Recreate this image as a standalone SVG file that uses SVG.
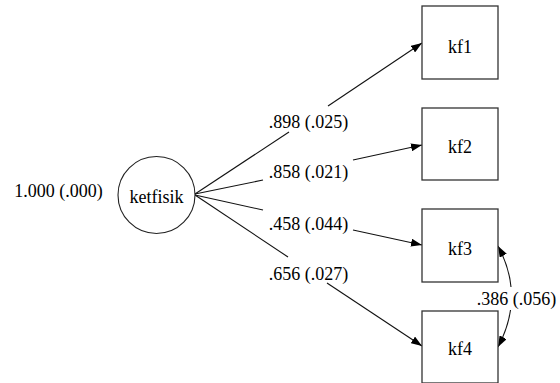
<svg xmlns="http://www.w3.org/2000/svg" width="560" height="383" viewBox="0 0 560 383">
<style>
text{font-family:'Liberation Serif','Times New Roman',serif;font-size:18px;fill:#000;text-anchor:middle}
.box{fill:#fff;stroke:#333;stroke-width:1.3}
.edge{fill:none;stroke:#111;stroke-width:1.1}
</style>
<defs>
<marker id="ah" markerUnits="userSpaceOnUse" markerWidth="11" markerHeight="8" refX="11" refY="4" orient="auto-start-reverse">
<path d="M0,0 L11,4 L0,8 z" fill="#000"/>
</marker>
</defs>
<rect width="560" height="383" fill="#fff"/>
<g id="connectors" font-family="Liberation Serif, serif">
<path class="edge" d="M195,194 L289,132"/>
<path class="edge" d="M328,106 L422,43" marker-end="url(#ah)"/>
<path class="edge" d="M195,194 L263,180"/>
<path class="edge" d="M353,160 L422,145" marker-end="url(#ah)"/>
<path class="edge" d="M195,195 L263,210"/>
<path class="edge" d="M353,230 L422,245" marker-end="url(#ah)"/>
<path class="edge" d="M195,195 L288,257"/>
<path class="edge" d="M327,283 L422,346" marker-end="url(#ah)"/>
<path class="edge" d="M498,246 Q509,266.3 511,287" marker-start="url(#ah)"/>
<path class="edge" d="M510.5,310 Q507.9,328.3 498,347" marker-end="url(#ah)"/>
<text x="308.5" y="128">.898 (.025)</text>
<text x="308.5" y="178">.858 (.021)</text>
<text x="308.5" y="230">.458 (.044)</text>
<text x="308.5" y="280">.656 (.027)</text>
<text x="516.5" y="305">.386 (.056)</text>
</g>
<g id="var-ketfisik">
<text x="58.5" y="197">1.000 (.000)</text>
<circle cx="156.5" cy="195" r="38.5" fill="#fff" stroke="#222" stroke-width="1.1"/>
<text x="156.5" y="203">ketfisik</text>
</g>
<g id="kf1"><rect class="box" x="422" y="6" width="76" height="73"/><text x="460" y="53">kf1</text></g>
<g id="kf2"><rect class="box" x="422" y="108" width="76" height="72"/><text x="460" y="153">kf2</text></g>
<g id="kf3"><rect class="box" x="422" y="209" width="76" height="73"/><text x="460" y="255">kf3</text></g>
<g id="kf4"><rect class="box" x="422" y="311" width="76" height="72"/><text x="460" y="355">kf4</text></g>
</svg>
